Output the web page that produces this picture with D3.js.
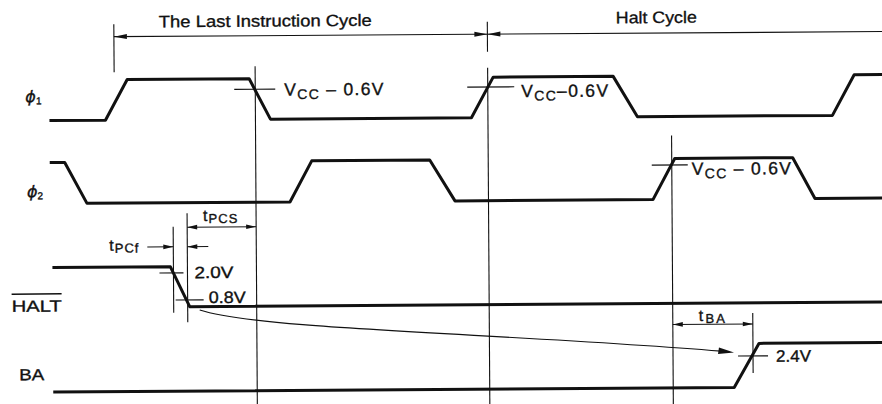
<!DOCTYPE html>
<html><head><meta charset="utf-8">
<script src="https://cdn.jsdelivr.net/npm/d3@7"></script>
<style>
html,body{margin:0;padding:0;background:#fff;}
svg{display:block;}
text{font-family:"Liberation Sans",Arial,Helvetica,sans-serif;fill:#111;stroke:#111;stroke-width:0.35px;}
</style>
</head><body>
<svg id="chart" width="882" height="404"></svg>
<script>
// ---------------- data ----------------
const signalNames = ["ϕ", "ϕ", "HALT", "BA"];
const signalSubs  = ["1", "2", "", ""];
// waveform vertices: time (arbitrary units) and logic level (0 low, 1 high)
const phi1Times  = [50, 106, 128, 250, 271, 472, 494, 614, 638, 833, 855, 900];
const phi1Levels = [0, 0, 1, 1, 0, 0, 1, 1, 0, 0, 1, 1];
const phi2Times  = [50, 65, 87, 290, 312, 430, 455, 653, 675, 793, 815, 900];
const phi2Levels = [1, 1, 0, 0, 1, 1, 0, 0, 1, 1, 0, 0];
const haltTimes  = [52, 170, 189, 900];
const haltLevels = [1, 1, 0, 0];
const baTimes    = [52, 733, 758, 900];
const baLevels   = [0, 0, 1, 1];
// cycle boundaries and names
const cycleBounds = [115, 488.5, 900];
const cycleNames  = ["The Last Instruction Cycle", "Halt Cycle"];
// reference edges (times)
const markerTimes = [256, 488.5, 672];
// threshold labels
const vccLabels = ["V|CC| – 0.6V", "V|CC|–0.6V", "V|CC| – 0.6V"];
const levelLabels = ["2.0V", "0.8V", "2.4V"];
// timing parameters
const timingNames = ["PCf", "PCS", "BA"];
const tPCfBounds = [173, 187];
const tPCSBounds = [187, 256];
const tBABounds  = [672, 752];

// ---------------- layout ----------------
const svg = d3.select("#chart");
const g = svg.append("g").attr("transform", "rotate(-0.38,441,202)");
const x = d3.scaleLinear().domain([0, 882]).range([0, 882]);
const lanes = [
  d3.scaleLinear().domain([0, 1]).range([118, 77.5]),
  d3.scaleLinear().domain([0, 1]).range([201, 160]),
  d3.scaleLinear().domain([0, 1]).range([305, 265]),
  d3.scaleLinear().domain([0, 1]).range([389.5, 345.5])
];
const waves = [
  [phi1Times, phi1Levels], [phi2Times, phi2Levels],
  [haltTimes, haltLevels], [baTimes, baLevels]
];
const ink = "#111";

function line(x1, y1, x2, y2, w) {
  g.append("line").attr("x1", x1).attr("y1", y1).attr("x2", x2).attr("y2", y2)
    .attr("stroke", ink).attr("stroke-width", w || 1.1);
}
function arrow(xt, yt, dir, len, hw) {
  len = len || 10; hw = hw || 2.3;
  g.append("path")
    .attr("d", `M${xt},${yt}L${xt - dir * len},${yt - hw}L${xt - dir * len},${yt + hw}Z`)
    .attr("fill", ink);
}

// waveforms
waves.forEach(([ts, ls], i) => {
  const data = ts.map((t, k) => [t, ls[k]]);
  g.append("path")
    .datum(data)
    .attr("d", d3.line().x(d => x(d[0])).y(d => lanes[i](d[1])))
    .attr("fill", "none").attr("stroke", ink).attr("stroke-width", 3)
    .attr("stroke-linejoin", "round");
});

// signal names
const nameX = [26, 27, 11, 18];
const nameY = [99.5, 194.5, 309, 377.5];
signalNames.forEach((n, i) => {
  const t = g.append("text").attr("x", nameX[i]).attr("y", nameY[i]).attr("font-size", 16);
  if (i < 2) {
    t.append("tspan").attr("font-family", "'DejaVu Sans',sans-serif")
      .attr("font-style", "oblique").attr("font-size", 16).text(n);
    t.append("tspan").attr("font-size", 10).attr("dy", 2).text(signalSubs[i]);
  } else {
    t.text(n).attr("textLength", i === 2 ? 50 : 25).attr("lengthAdjust", "spacingAndGlyphs");
  }
});
line(11, 291.3, 61, 291.3, 1.5); // overline for HALT

// cycle bar
line(x(cycleBounds[0]), 34.5, x(cycleBounds[2]), 34.5, 1.1);
line(x(cycleBounds[0]), 22, x(cycleBounds[0]), 70, 1.1);
line(x(cycleBounds[1]), 22, x(cycleBounds[1]), 52, 1.1);
arrow(x(cycleBounds[0]), 34.5, -1, 13, 2.5);
arrow(x(cycleBounds[1]), 34.5, 1, 13, 2.5);
arrow(x(cycleBounds[1]), 34.5, -1, 13, 2.5);
const cycleTextX = [160, 617], cycleTextW = [213, 81], cycleTextY = [25.5, 24.5];
cycleNames.forEach((n, i) => {
  g.append("text").attr("x", cycleTextX[i]).attr("y", cycleTextY[i])
    .attr("font-size", 16.5).attr("textLength", cycleTextW[i])
    .attr("lengthAdjust", "spacingAndGlyphs").text(n);
});

// long reference verticals
const markerTop = [65, 68, 137];
markerTimes.forEach((t, i) => line(x(t), markerTop[i], x(t), 412, 1.1));

// Vcc crosshairs and labels
const vccTicks = [[235, 276, 88], [468, 515, 87.3], [652, 688, 166.5]];
vccTicks.forEach(d => line(d[0], d[2], d[1], d[2], 1.1));
const vccPos = [[285, 94.5], [522, 97.6], [692, 176.5]];
vccLabels.forEach((s, i) => {
  const parts = s.split("|");
  const t = g.append("text").attr("x", vccPos[i][0]).attr("y", vccPos[i][1])
    .attr("font-size", 17.5).attr("letter-spacing", 1.3);
  t.append("tspan").text(parts[0]);
  t.append("tspan").attr("font-size", 14).attr("dy", 3.5).text(parts[1]);
  t.append("tspan").attr("dy", -3.5).text(parts[2]);
});

// level thresholds
const levelTicks = [[159, 183, 271.2], [175, 203, 298.3], [737, 767, 358]];
levelTicks.forEach(d => line(d[0], d[2], d[1], d[2], 1.1));
const levelPos = [[194, 276.5, 39], [208, 301.5, 37], [775, 364, 35]];
levelLabels.forEach((s, i) => {
  g.append("text").attr("x", levelPos[i][0]).attr("y", levelPos[i][1])
    .attr("font-size", 16.5).attr("textLength", levelPos[i][2])
    .attr("lengthAdjust", "spacingAndGlyphs").text(s);
});

// timing verticals
line(x(tPCfBounds[0]), 225, x(tPCfBounds[0]), 311, 1.1);
line(x(tPCfBounds[1]), 211.5, x(tPCfBounds[1]), 320.5, 1.1);
line(x(tBABounds[1]), 315, x(tBABounds[1]), 375, 1.1);

// tPCf (arrows pointing inward)
line(147, 245, x(tPCfBounds[0]), 245, 1.1);
arrow(x(tPCfBounds[0]), 245, 1, 10, 2.3);
line(x(tPCfBounds[1]), 245, 208, 245, 1.1);
arrow(x(tPCfBounds[1]), 245, -1, 10, 2.3);
// tPCS
line(x(tPCSBounds[0]), 225.5, x(tPCSBounds[1]), 225.5, 1.1);
arrow(x(tPCSBounds[0]), 225.5, -1, 10, 2.3);
arrow(x(tPCSBounds[1]), 225.5, 1, 10, 2.3);
// tBA
line(x(tBABounds[0]), 326, x(tBABounds[1]), 326, 1.1);
arrow(x(tBABounds[0]), 326, -1, 10, 2.3);
arrow(x(tBABounds[1]), 326, 1, 10, 2.3);

const timingPos = [[109, 248.5], [203, 219.5], [698, 322.8]];
const timingSpacing = [1, 1, 2.2];
timingNames.forEach((s, i) => {
  const t = g.append("text").attr("x", timingPos[i][0]).attr("y", timingPos[i][1])
    .attr("font-size", 16).attr("letter-spacing", timingSpacing[i]);
  t.append("tspan").text("t");
  t.append("tspan").attr("font-size", 13).attr("dy", 2).text(s);
});

// causal curve HALT -> BA
g.append("path")
  .attr("d", "M199,308.4C260,328.8 500,333.4 720,353")
  .attr("fill", "none").attr("stroke", ink).attr("stroke-width", 1.2);
g.append("path")
  .attr("d", "M733,354.5L718,349.3L717,355.8Z").attr("fill", ink);
</script>
</body></html>
